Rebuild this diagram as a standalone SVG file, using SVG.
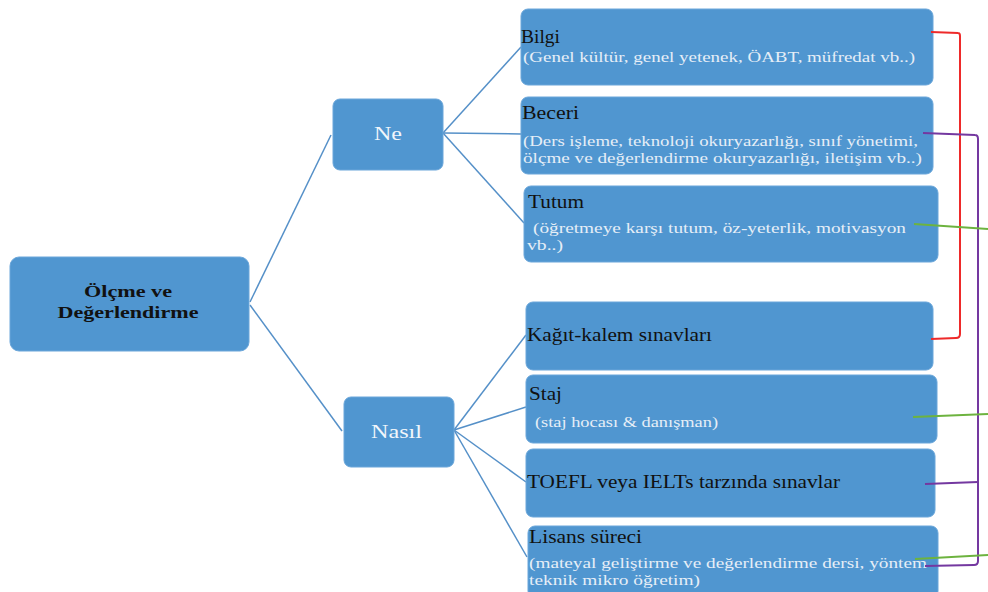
<svg xmlns="http://www.w3.org/2000/svg" width="988" height="592" viewBox="0 0 988 592">
<style>
.box{fill:#5096d0;stroke:#6aa6da;stroke-width:1}
.t{font-family:"Liberation Serif","DejaVu Serif",serif;font-size:18px;fill:#111}
.s{font-family:"Liberation Serif","DejaVu Serif",serif;font-size:15px;fill:#e6eef7}
.w{font-family:"Liberation Serif","DejaVu Serif",serif;font-size:19px;fill:#f2f6fb}
.b{font-family:"Liberation Serif","DejaVu Serif",serif;font-size:17px;font-weight:bold;fill:#111}
.c{fill:none;stroke:#5590c8;stroke-width:1.5}
.red{fill:none;stroke:#ee2a2a;stroke-width:2}
.pur{fill:none;stroke:#7438a0;stroke-width:2}
.grn{fill:none;stroke:#6db33f;stroke-width:2}
</style>
<rect width="988" height="592" fill="#ffffff"/>
<g id="connectors">
<path class="c" d="M250,302 L331,135"/>
<path class="c" d="M250,305 L342,431"/>
<path class="c" d="M443,133 L521,47"/>
<path class="c" d="M443,133 L521,134"/>
<path class="c" d="M443,133 L524,223"/>
<path class="c" d="M454,430 L526,335"/>
<path class="c" d="M454,430 L526,407"/>
<path class="c" d="M454,430 L526,482"/>
<path class="c" d="M454,430 L527,557"/>
</g>
<g id="root">
<rect class="box" x="10" y="257" width="239" height="94" rx="9"/>
<text class="b" x="128" y="297" text-anchor="middle" textLength="88" lengthAdjust="spacingAndGlyphs">Ölçme ve</text>
<text class="b" x="128" y="318" text-anchor="middle" textLength="141" lengthAdjust="spacingAndGlyphs">Değerlendirme</text>
</g>
<g id="ne">
<rect class="box" x="333" y="99" width="110" height="71" rx="7"/>
<text class="w" x="374" y="140" textLength="28" lengthAdjust="spacingAndGlyphs">Ne</text>
</g>
<g id="nasil">
<rect class="box" x="344" y="397" width="110" height="70" rx="7"/>
<text class="w" x="371" y="438" textLength="51" lengthAdjust="spacingAndGlyphs">Nasıl</text>
</g>
<g id="bilgi">
<rect class="box" x="521" y="9" width="412" height="76" rx="7"/>
<text class="t" x="521" y="43" textLength="39" lengthAdjust="spacingAndGlyphs">Bilgi</text>
<text class="s" x="523" y="62" textLength="392" lengthAdjust="spacingAndGlyphs">(Genel kültür, genel yetenek, ÖABT, müfredat vb..)</text>
</g>
<g id="beceri">
<rect class="box" x="521" y="97" width="412" height="77" rx="7"/>
<text class="t" x="522" y="119" textLength="57" lengthAdjust="spacingAndGlyphs">Beceri</text>
<text class="s" x="523" y="146" textLength="395" lengthAdjust="spacingAndGlyphs">(Ders işleme, teknoloji okuryazarlığı, sınıf yönetimi,</text>
<text class="s" x="523" y="163" textLength="399" lengthAdjust="spacingAndGlyphs">ölçme ve değerlendirme okuryazarlığı, iletişim vb..)</text>
</g>
<g id="tutum">
<rect class="box" x="524" y="186" width="414" height="76" rx="7"/>
<text class="t" x="528" y="208" textLength="56" lengthAdjust="spacingAndGlyphs">Tutum</text>
<text class="s" x="533" y="233" textLength="373" lengthAdjust="spacingAndGlyphs">(öğretmeye karşı tutum, öz-yeterlik, motivasyon</text>
<text class="s" x="527" y="250" textLength="36" lengthAdjust="spacingAndGlyphs">vb..)</text>
</g>
<g id="kagit">
<rect class="box" x="526" y="302" width="407" height="68" rx="7"/>
<text class="t" x="527" y="341" textLength="185" lengthAdjust="spacingAndGlyphs">Kağıt-kalem sınavları</text>
</g>
<g id="staj">
<rect class="box" x="526" y="375" width="411" height="68" rx="7"/>
<text class="t" x="529" y="400" textLength="33" lengthAdjust="spacingAndGlyphs">Staj</text>
<text class="s" x="535" y="427" textLength="183" lengthAdjust="spacingAndGlyphs">(staj hocası &amp; danışman)</text>
</g>
<g id="toefl">
<rect class="box" x="526" y="449" width="409" height="68" rx="7"/>
<text class="t" x="527" y="488" textLength="313" lengthAdjust="spacingAndGlyphs">TOEFL veya IELTs tarzında sınavlar</text>
</g>
<g id="lisans">
<rect class="box" x="528" y="526" width="410" height="72" rx="7"/>
<text class="t" x="529" y="543" textLength="113" lengthAdjust="spacingAndGlyphs">Lisans süreci</text>
<text class="s" x="529" y="568" textLength="398" lengthAdjust="spacingAndGlyphs">(mateyal geliştirme ve değerlendirme dersi, yöntem</text>
<text class="s" x="529" y="585" textLength="171" lengthAdjust="spacingAndGlyphs">teknik mikro öğretim)</text>
</g>
<g id="brackets">
<path class="red" d="M931,32 L958,33 Q960,33 960,36 L960,334 Q960,338 956,338 L931,339"/>
<path class="pur" d="M923,133 L975,135 Q978,135 978,139 L978,561 Q978,565 974,565 L925,566"/>
<path class="pur" d="M925,484 L978,482"/>
<path class="grn" d="M914,224 L988,229"/>
<path class="grn" d="M913,417 L988,414"/>
<path class="grn" d="M915,559 L988,555"/>
</g>
</svg>
